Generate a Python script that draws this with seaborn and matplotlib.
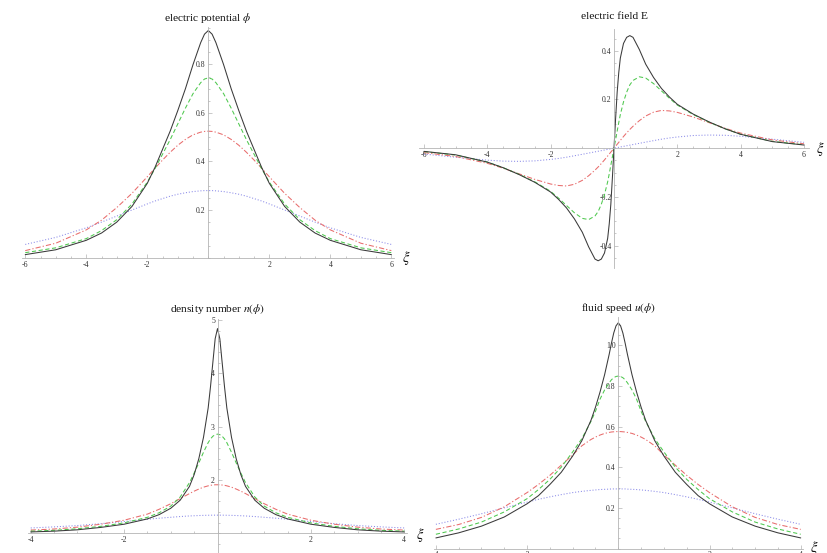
import matplotlib
matplotlib.use("Agg")
import matplotlib.pyplot as plt
from matplotlib.ticker import MultipleLocator
import seaborn as sns

# ---------------- data ----------------
# Panel 1: electric potential phi(xi)
xi_phi = [-6, -5, -4, -3.5, -3, -2.5, -2, -1.75, -1.5, -1.25, -1, -0.75, -0.5, -0.25, -0.125, 0,
          0.125, 0.25, 0.5, 0.75, 1, 1.25, 1.5, 1.75, 2, 2.5, 3, 3.5, 4, 5, 6]
phi_black = [0.016, 0.036, 0.075, 0.105, 0.15, 0.215, 0.31, 0.375, 0.45, 0.525, 0.61, 0.70, 0.80, 0.89, 0.925, 0.94,
             0.925, 0.89, 0.80, 0.70, 0.61, 0.525, 0.45, 0.375, 0.31, 0.215, 0.15, 0.105, 0.075, 0.036, 0.016]
phi_green = [0.024, 0.044, 0.082, 0.115, 0.16, 0.225, 0.315, 0.37, 0.43, 0.49, 0.555, 0.62, 0.68, 0.725, 0.74, 0.745,
             0.74, 0.725, 0.68, 0.62, 0.555, 0.49, 0.43, 0.37, 0.315, 0.225, 0.16, 0.115, 0.082, 0.044, 0.024]
phi_red = [0.0325, 0.063, 0.118, 0.158, 0.21, 0.269, 0.337, 0.372, 0.406, 0.438, 0.467, 0.491, 0.51, 0.521, 0.524, 0.525,
           0.524, 0.521, 0.51, 0.491, 0.467, 0.438, 0.406, 0.372, 0.337, 0.269, 0.21, 0.158, 0.118, 0.063, 0.0325]
phi_blue = [0.058, 0.087, 0.1265, 0.15, 0.175, 0.20, 0.225, 0.237, 0.247, 0.257, 0.265, 0.271, 0.276, 0.279, 0.28, 0.28,
            0.28, 0.279, 0.276, 0.271, 0.265, 0.257, 0.247, 0.237, 0.225, 0.20, 0.175, 0.15, 0.1265, 0.087, 0.058]

# Panel 2: electric field E(xi)
xi_E = [-6, -5, -4, -3.5, -3, -2.5, -2, -1.75, -1.5, -1.25, -1, -0.8, -0.6, -0.5, -0.4, -0.3, -0.2, -0.15, -0.1, -0.05, 0,
        0.05, 0.1, 0.15, 0.2, 0.3, 0.4, 0.5, 0.6, 0.8, 1, 1.25, 1.5, 1.75, 2, 2.5, 3, 3.5, 4, 5, 6]
E_black = [-0.013, -0.027, -0.057, -0.08, -0.108, -0.14, -0.18, -0.21, -0.245, -0.29, -0.345, -0.405, -0.455, -0.462,
           -0.455, -0.43, -0.37, -0.31, -0.23, -0.12, 0, 0.12, 0.23, 0.31, 0.37, 0.43, 0.455, 0.462, 0.455, 0.405,
           0.345, 0.29, 0.245, 0.21, 0.18, 0.14, 0.108, 0.08, 0.057, 0.027, 0.013]
E_green = [-0.014, -0.028, -0.057, -0.08, -0.107, -0.138, -0.177, -0.205, -0.235, -0.265, -0.288, -0.293, -0.278, -0.26,
           -0.23, -0.19, -0.138, -0.105, -0.07, -0.035, 0, 0.035, 0.07, 0.105, 0.138, 0.19, 0.23, 0.26, 0.278, 0.293,
           0.288, 0.265, 0.235, 0.205, 0.177, 0.138, 0.107, 0.08, 0.057, 0.028, 0.014]
E_red = [-0.018, -0.034, -0.062, -0.082, -0.105, -0.128, -0.147, -0.153, -0.155, -0.148, -0.132, -0.113, -0.09, -0.077,
         -0.063, -0.048, -0.032, -0.024, -0.016, -0.008, 0, 0.008, 0.016, 0.024, 0.032, 0.048, 0.063, 0.077, 0.09, 0.113,
         0.132, 0.148, 0.155, 0.153, 0.147, 0.128, 0.105, 0.082, 0.062, 0.034, 0.018]
E_blue = [-0.024, -0.037, -0.049, -0.053, -0.054, -0.052, -0.046, -0.042, -0.037, -0.031, -0.025, -0.02, -0.015, -0.0125,
          -0.01, -0.0075, -0.005, -0.0037, -0.0025, -0.0012, 0, 0.0012, 0.0025, 0.0037, 0.005, 0.0075, 0.01, 0.0125,
          0.015, 0.02, 0.025, 0.031, 0.037, 0.042, 0.046, 0.052, 0.054, 0.053, 0.049, 0.037, 0.024]

# Panel 3: density number n(phi)
xi_n = [-4, -3.5, -3, -2.5, -2, -1.5, -1.25, -1, -0.8, -0.6, -0.5, -0.4, -0.3, -0.2, -0.15, -0.1, -0.05, 0,
        0.05, 0.1, 0.15, 0.2, 0.3, 0.4, 0.5, 0.6, 0.8, 1, 1.25, 1.5, 2, 2.5, 3, 3.5, 4]
n_black = [1.025, 1.04, 1.065, 1.11, 1.17, 1.27, 1.35, 1.47, 1.62, 1.88, 2.1, 2.4, 2.8, 3.35, 3.75, 4.2, 4.65, 4.84,
           4.65, 4.2, 3.75, 3.35, 2.8, 2.4, 2.1, 1.88, 1.62, 1.47, 1.35, 1.27, 1.17, 1.11, 1.065, 1.04, 1.025]
n_green = [1.04, 1.055, 1.085, 1.13, 1.195, 1.3, 1.385, 1.51, 1.68, 1.95, 2.13, 2.32, 2.52, 2.7, 2.77, 2.82, 2.85, 2.86,
           2.85, 2.82, 2.77, 2.7, 2.52, 2.32, 2.13, 1.95, 1.68, 1.51, 1.385, 1.3, 1.195, 1.13, 1.085, 1.055, 1.04]
n_red = [1.06, 1.08, 1.115, 1.17, 1.245, 1.36, 1.45, 1.555, 1.65, 1.745, 1.79, 1.83, 1.865, 1.89, 1.9, 1.905, 1.91, 1.91,
         1.91, 1.905, 1.9, 1.89, 1.865, 1.83, 1.79, 1.745, 1.65, 1.555, 1.45, 1.36, 1.245, 1.17, 1.115, 1.08, 1.06]
n_blue = [1.10, 1.12, 1.145, 1.18, 1.22, 1.263, 1.283, 1.30, 1.314, 1.325, 1.329, 1.333, 1.336, 1.338, 1.339, 1.34, 1.34,
          1.34, 1.34, 1.34, 1.339, 1.338, 1.336, 1.333, 1.329, 1.325, 1.314, 1.30, 1.283, 1.263, 1.22, 1.18, 1.145,
          1.12, 1.10]

# Panel 4: fluid speed u(phi)
xi_u = [-4, -3.5, -3, -2.5, -2, -1.75, -1.5, -1.25, -1, -0.8, -0.6, -0.5, -0.4, -0.3, -0.2, -0.15, -0.1, -0.05, 0,
        0.05, 0.1, 0.15, 0.2, 0.3, 0.4, 0.5, 0.6, 0.8, 1, 1.25, 1.5, 1.75, 2, 2.5, 3, 3.5, 4]
u_black = [0.052, 0.077, 0.11, 0.155, 0.22, 0.26, 0.315, 0.375, 0.455, 0.53, 0.63, 0.695, 0.77, 0.855, 0.955, 1.01,
           1.06, 1.095, 1.11, 1.095, 1.06, 1.01, 0.955, 0.855, 0.77, 0.695, 0.63, 0.53, 0.455, 0.375, 0.315, 0.26,
           0.22, 0.155, 0.11, 0.077, 0.052]
u_green = [0.07, 0.096, 0.13, 0.18, 0.245, 0.29, 0.34, 0.40, 0.475, 0.54, 0.625, 0.675, 0.735, 0.78, 0.815, 0.83, 0.84,
           0.846, 0.848, 0.846, 0.84, 0.83, 0.815, 0.78, 0.735, 0.675, 0.625, 0.54, 0.475, 0.40, 0.34, 0.29, 0.245,
           0.18, 0.13, 0.096, 0.07]
u_red = [0.094, 0.118, 0.153, 0.205, 0.275, 0.315, 0.36, 0.41, 0.46, 0.505, 0.536, 0.548, 0.558, 0.566, 0.571, 0.573,
         0.574, 0.575, 0.575, 0.575, 0.574, 0.573, 0.571, 0.566, 0.558, 0.548, 0.536, 0.505, 0.46, 0.41, 0.36, 0.315,
         0.275, 0.205, 0.153, 0.118, 0.094]
u_blue = [0.119, 0.144, 0.171, 0.20, 0.228, 0.242, 0.254, 0.265, 0.275, 0.281, 0.286, 0.288, 0.29, 0.291, 0.292, 0.293,
          0.293, 0.293, 0.293, 0.293, 0.293, 0.293, 0.292, 0.291, 0.29, 0.288, 0.286, 0.281, 0.275, 0.265, 0.254,
          0.242, 0.228, 0.20, 0.171, 0.144, 0.119]

titles = ["electric potential $\\phi$", "electric field E", "density number $n(\\phi)$", "fluid speed $u(\\phi)$"]

# ---------------- styling ----------------
sns.set_theme(style="white")
plt.rcParams["font.family"] = ["Liberation Serif", "DejaVu Serif"]
plt.rcParams["mathtext.fontset"] = "stix"

W, H = 827, 553
fig = plt.figure(figsize=(W / 100, H / 100), dpi=100)
fig.patch.set_facecolor("white")

styles = {
    "blue": dict(color="#8a8ae8", linestyle=(0, (1.0, 1.8))),
    "red": dict(color="#e86c6c", linestyle=(0, (5, 2, 1.2, 2))),
    "green": dict(color="#4ec84e", linestyle=(0, (4, 2.5))),
    "black": dict(color="#3a3a3a", linestyle="-"),
}
AXC = "#b4b4b4"


def fmt(v):
    s = ("%g" % v)
    if s.startswith("-"):
        s = "-" + s[1:]
    if abs(v - round(v)) > 1e-9 or isinstance(v, float) and "." not in s and abs(v) < 2 and False:
        pass
    return s


def panel(px, xi, series, xlim, ylim, yorig, xticks, yticks, xminor, yminor, ylabels,
          title, tpos, xi_pos):
    left, top, right, bottom = px
    ax = fig.add_axes([left / W, 1 - bottom / H, (right - left) / W, (bottom - top) / H])
    ax.set_facecolor("none")
    for name in ["blue", "red", "green", "black"]:
        sns.lineplot(x=xi, y=series[name], ax=ax, lw=0.75, errorbar=None, sort=False, **styles[name])
    ax.set_xlim(*xlim)
    ax.set_ylim(*ylim)
    ax.set_xlabel("")
    ax.set_ylabel("")
    for s in ["top", "right"]:
        ax.spines[s].set_visible(False)
    ax.spines["left"].set_position(("data", 0))
    ax.spines["bottom"].set_position(("data", yorig))
    for s in ["left", "bottom"]:
        ax.spines[s].set_color(AXC)
        ax.spines[s].set_linewidth(0.6)
    ax.set_xticks(xticks, ["%g" % t for t in xticks])
    ax.set_yticks(yticks, ylabels)
    ax.xaxis.set_minor_locator(MultipleLocator(xminor))
    ax.yaxis.set_minor_locator(MultipleLocator(yminor))
    ax.tick_params(which="both", direction="in", color=AXC, width=0.5, labelsize=5.6,
                   labelcolor="#333333", pad=1.8, bottom=True, left=True)
    ax.tick_params(which="major", length=3)
    ax.tick_params(which="minor", length=1.6)
    ax.grid(False)
    fig.text(tpos[0] / W, 1 - tpos[1] / H, title, ha="center", va="baseline", fontsize=8.2, color="#111111")
    fig.text(xi_pos[0] / W, 1 - xi_pos[1] / H, "$\\xi$", ha="left", va="center", fontsize=10.5, color="#111111")
    return ax


panel((22.2, 26.9, 394.4, 258.5), xi_phi,
      dict(black=phi_black, green=phi_green, red=phi_red, blue=phi_blue),
      (-6.1, 6.1), (0, 0.955), 0,
      [-6, -4, -2, 2, 4, 6], [0.2, 0.4, 0.6, 0.8], 0.5, 0.05,
      ["0.2", "0.4", "0.6", "0.8"], titles[0], (208.3, 21), (401.5, 258.5))

panel((419.2, 28.8, 808.8, 267.6), xi_E,
      dict(black=E_black, green=E_green, red=E_red, blue=E_blue),
      (-6.15, 6.15), (-0.49, 0.49), 0,
      [-6, -4, -2, 2, 4, 6], [-0.4, -0.2, 0.2, 0.4], 0.5, 0.05,
      ["-0.4", "-0.2", "0.2", "0.4"], titles[1], (614, 19), (815.5, 149))

panel((28.4, 319.0, 406.6, 553.0), xi_n,
      dict(black=n_black, green=n_green, red=n_red, blue=n_blue),
      (-4.05, 4.05), (0.63, 5.02), 1,
      [-4, -2, 2, 4], [2, 3, 4, 5], 0.5, 0.2,
      ["2", "3", "4", "5"], titles[2], (217.5, 312.5), (416, 535))

panel((433.6, 316.7, 803.0, 548.5), xi_u,
      dict(black=u_black, green=u_green, red=u_red, blue=u_blue),
      (-4.05, 4.05), (0, 1.14), 0,
      [-4, -2, 2, 4], [0.2, 0.4, 0.6, 0.8, 1.0], 0.5, 0.05,
      ["0.2", "0.4", "0.6", "0.8", "1.0"], titles[3], (618, 311), (810, 548))

fig.savefig("out.png", dpi=100, facecolor="white")
